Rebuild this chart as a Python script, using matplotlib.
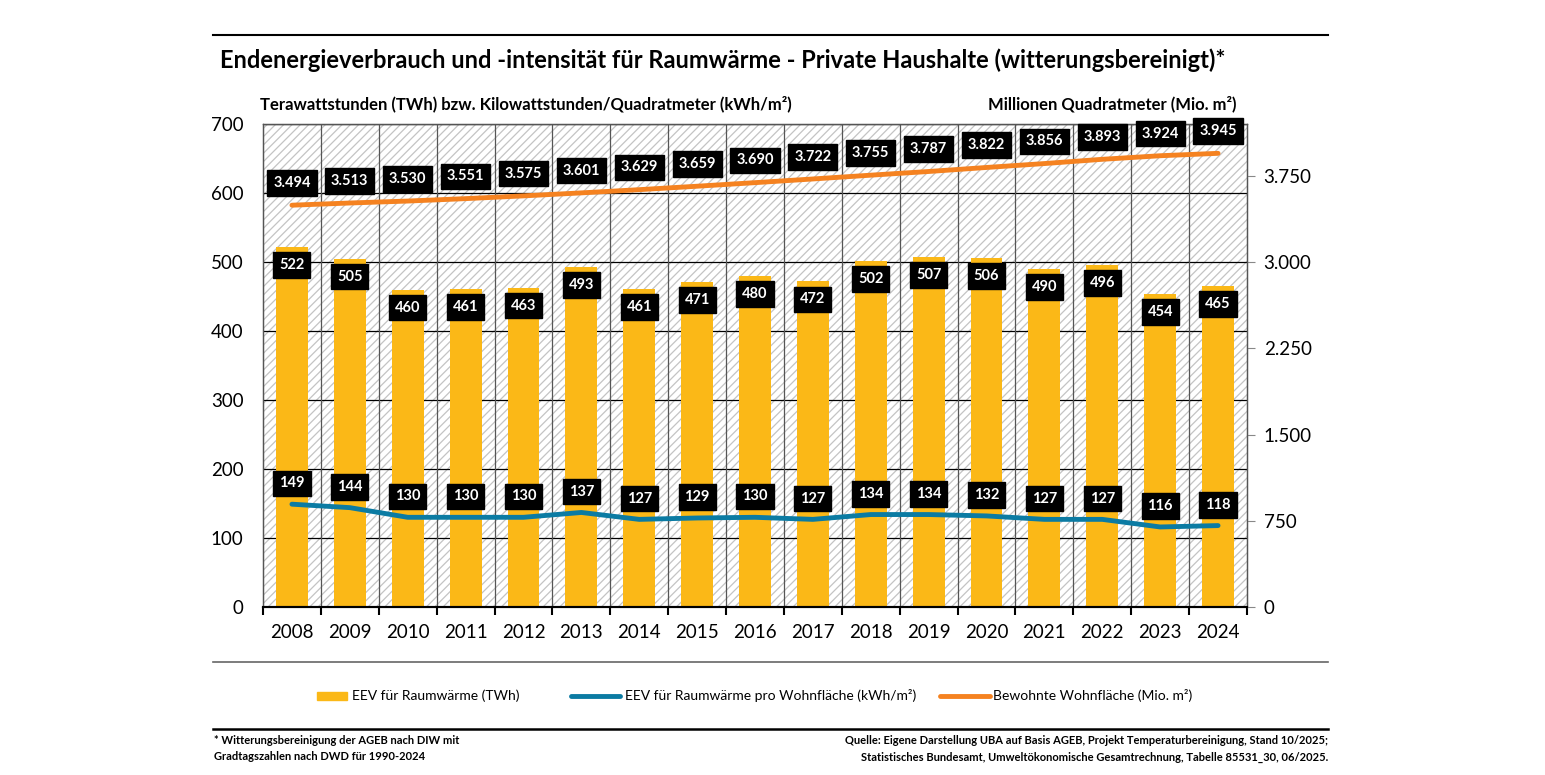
import matplotlib.pyplot as plt
import numpy as np
from matplotlib.patches import Rectangle
from matplotlib.lines import Line2D
from matplotlib.ticker import FuncFormatter

plt.rcParams['font.family'] = ['Lato', 'DejaVu Sans']
plt.rcParams['hatch.color'] = '#c4c4c4'
plt.rcParams['hatch.linewidth'] = 0.9

# Daten
jahre = [str(j) for j in range(2008, 2025)]
eev_twh = [522, 505, 460, 461, 463, 493, 461, 471, 480, 472, 502, 507, 506, 490, 496, 454, 465]
eev_kwh_m2 = [149, 144, 130, 130, 130, 137, 127, 129, 130, 127, 134, 134, 132, 127, 127, 116, 118]
wohnflaeche = [3494, 3513, 3530, 3551, 3575, 3601, 3629, 3659, 3690, 3722, 3755, 3787, 3822, 3856, 3893, 3924, 3945]

c_bar = '#FBB817'
c_blue = '#0B7BA3'
c_orange = '#F58220'


def de(v):
    return f"{int(v):,}".replace(",", ".")


fig = plt.figure(figsize=(15.45, 7.75), dpi=100)
ax = fig.add_axes([263 / 1545, 1 - 607 / 775, (1247 - 263) / 1545, (607 - 124) / 775])
ax2 = ax.twinx()

x = np.arange(len(jahre))
ax.set_xlim(-0.5, len(jahre) - 0.5)
ax.set_ylim(0, 700)
ax2.set_ylim(0, 4200)

# schraffierter Hintergrund
ax.add_patch(Rectangle((0, 0), 1, 1, transform=ax.transAxes, facecolor='white',
                       hatch='////', edgecolor='#c4c4c4', linewidth=0, zorder=0))

# Gitter
for yv in range(100, 701, 100):
    ax.axhline(yv, color='black', lw=0.9, zorder=1)
for xv in np.arange(0.5, len(jahre) - 1, 1):
    ax.axvline(xv, color='#555555', lw=0.9, zorder=1)

ax.bar(x, eev_twh, width=0.55, color=c_bar, zorder=2)
ax.plot(x, eev_kwh_m2, color=c_blue, lw=3.5, zorder=3, solid_capstyle='round')
ax2.plot(x, wohnflaeche, color=c_orange, lw=3.5, zorder=3, solid_capstyle='round')

box = dict(boxstyle='square,pad=0.4', fc='black', ec='black')
for i in range(len(jahre)):
    ax.annotate(str(eev_twh[i]), (x[i], eev_twh[i]), xytext=(0, -13), textcoords='offset points',
                ha='center', va='center', color='white', fontsize=10.5, fontweight='bold',
                bbox=box, zorder=5)
    ax.annotate(str(eev_kwh_m2[i]), (x[i], eev_kwh_m2[i]), xytext=(0, 15), textcoords='offset points',
                ha='center', va='center', color='white', fontsize=10.5, fontweight='bold',
                bbox=box, zorder=5)
    ax2.annotate(de(wohnflaeche[i]), (x[i], wohnflaeche[i]), xytext=(0, 16), textcoords='offset points',
                 ha='center', va='center', color='white', fontsize=10.5, fontweight='bold',
                 bbox=box, zorder=5, annotation_clip=False)

ax.set_zorder(ax2.get_zorder() - 1)
ax.patch.set_visible(False)
ax2.patch.set_visible(False)

# Achsen
ax.set_xticks(x)
ax.set_xticklabels(jahre, fontsize=13.5)
ax.tick_params(axis='x', length=0, pad=12)
ax.set_xticks(np.arange(-0.5, len(jahre), 1), minor=True)
ax.tick_params(axis='x', which='minor', length=6, width=1.5, color='black')
ax.set_yticks(range(0, 701, 100))
ax.tick_params(axis='y', length=0, labelsize=13.5, pad=14)
ax2.set_yticks(range(0, 3751, 750))
ax2.yaxis.set_major_formatter(FuncFormatter(lambda v, p: de(v)))
ax2.tick_params(axis='y', length=6, color='#888888', labelsize=13.5, pad=6)

for a in (ax, ax2):
    for s in ('left', 'right', 'top'):
        a.spines[s].set_color('#555555')
        a.spines[s].set_linewidth(0.9)
    a.spines['bottom'].set_color('black')
    a.spines['bottom'].set_linewidth(1.5)

# Texte
fig.add_artist(Line2D([213 / 1545, 1328 / 1545], [1 - 35 / 775] * 2, color='black', lw=1.5))
fig.text(220 / 1545, 1 - 60 / 775, 'Endenergieverbrauch und -intensität für Raumwärme - Private Haushalte (witterungsbereinigt)*',
         fontsize=17, fontweight='bold', va='center', ha='left')
fig.text(260 / 1545, 1 - 104 / 775, 'Terawattstunden (TWh) bzw. Kilowattstunden/Quadratmeter (kWh/m²)',
         fontsize=12, fontweight='bold', va='center', ha='left')
fig.text(1236 / 1545, 1 - 104 / 775, 'Millionen Quadratmeter (Mio. m²)',
         fontsize=12, fontweight='bold', va='center', ha='right')

fig.add_artist(Line2D([213 / 1545, 1328 / 1545], [1 - 662 / 775] * 2, color='#666666', lw=1.2))
fig.add_artist(Line2D([213 / 1545, 1328 / 1545], [1 - 729 / 775] * 2, color='black', lw=1.8))

# Legende
ly = 1 - 696 / 775
fig.add_artist(Rectangle((317 / 1545, ly - 4 / 775), 30 / 1545, 8 / 775, color=c_bar))
fig.text(352 / 1545, ly, 'EEV für Raumwärme (TWh)', fontsize=10, va='center')
fig.add_artist(Line2D([571 / 1545, 620 / 1545], [ly, ly], color=c_blue, lw=3.5, solid_capstyle='round'))
fig.text(625 / 1545, ly, 'EEV für Raumwärme pro Wohnfläche (kWh/m²)', fontsize=10, va='center')
fig.add_artist(Line2D([940 / 1545, 990 / 1545], [ly, ly], color=c_orange, lw=3.5, solid_capstyle='round'))
fig.text(993 / 1545, ly, 'Bewohnte Wohnfläche (Mio. m²)', fontsize=10, va='center')

fig.text(214 / 1545, 1 - 741 / 775, '* Witterungsbereinigung der AGEB nach DIW mit', fontsize=8, fontweight='bold', va='center')
fig.text(214 / 1545, 1 - 757 / 775, 'Gradtagszahlen nach DWD für 1990-2024', fontsize=8, fontweight='bold', va='center')
fig.text(1328 / 1545, 1 - 741 / 775, 'Quelle: Eigene Darstellung UBA auf Basis AGEB, Projekt Temperaturbereinigung, Stand 10/2025;',
         fontsize=8, fontweight='bold', va='center', ha='right')
fig.text(1328 / 1545, 1 - 757 / 775, 'Statistisches Bundesamt, Umweltökonomische Gesamtrechnung, Tabelle 85531_30, 06/2025.',
         fontsize=8, fontweight='bold', va='center', ha='right')

fig.savefig('out.png', dpi=100)
